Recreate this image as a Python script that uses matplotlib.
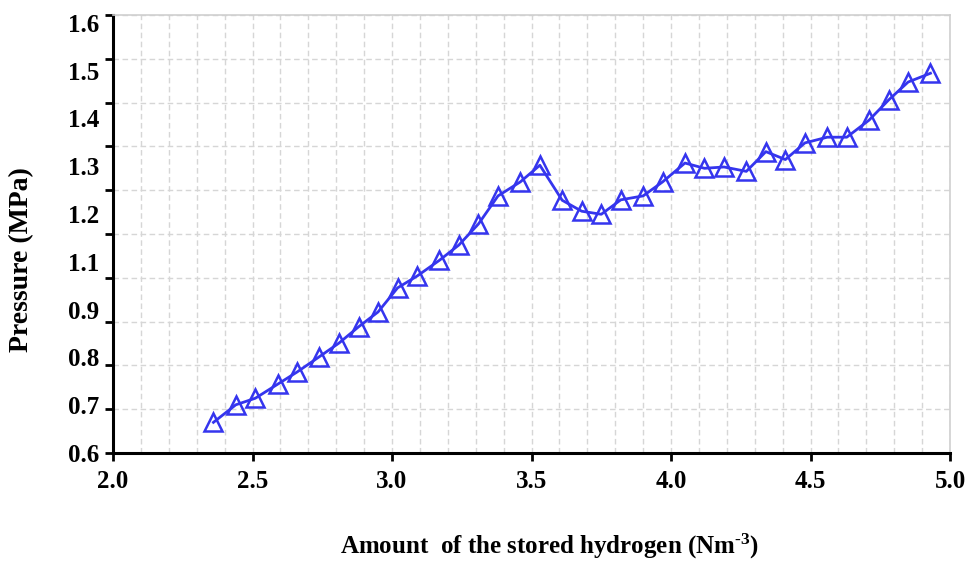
import matplotlib
matplotlib.use("Agg")
import matplotlib.pyplot as plt
import numpy as np
from matplotlib.ticker import MultipleLocator, FixedLocator, NullFormatter

# Data
stored_h2 = [2.36, 2.44, 2.51, 2.59, 2.66, 2.74, 2.81, 2.88, 2.95, 3.02,
             3.09, 3.17, 3.24, 3.31, 3.38, 3.46, 3.53, 3.61, 3.68, 3.75,
             3.82, 3.90, 3.97, 4.05, 4.12, 4.19, 4.27, 4.34, 4.41, 4.48,
             4.56, 4.63, 4.71, 4.78, 4.85, 4.93]
pressure = [0.670, 0.710, 0.725, 0.757, 0.785, 0.820, 0.851, 0.888, 0.922, 0.977,
            1.004, 1.040, 1.075, 1.123, 1.187, 1.219, 1.257, 1.177, 1.152, 1.145,
            1.178, 1.187, 1.219, 1.262, 1.250, 1.253, 1.243, 1.288, 1.270, 1.308,
            1.321, 1.321, 1.360, 1.406, 1.447, 1.467]

x_ticks = [2.0, 2.5, 3.0, 3.5, 4.0, 4.5, 5.0]
y_ticks = [0.6, 0.7, 0.8, 0.9, 1.0, 1.1, 1.2, 1.3, 1.4, 1.5, 1.6]
# the printed y labels (1.0 is absent in the original figure)
y_tick_labels = ["0.6", "0.7", "0.8", "0.9", "1.1", "1.2", "1.3", "1.4", "1.5", "1.6"]

plt.rcParams['font.family'] = ['Liberation Serif', 'DejaVu Serif']
plt.rcParams['font.weight'] = 'bold'
plt.rcParams['mathtext.fontset'] = 'custom'
plt.rcParams['mathtext.rm'] = 'Liberation Serif:bold'
plt.rcParams['mathtext.it'] = 'Liberation Serif:bold'
plt.rcParams['mathtext.bf'] = 'Liberation Serif:bold'

fig = plt.figure(figsize=(9.73, 5.63), dpi=100)
ax = fig.add_axes([113/973, 1-453/563, (950-113)/973, (453-15)/563])

blue = '#3535ee'
ax.plot(stored_h2, pressure, color=blue, linewidth=2.0, marker='^',
        markersize=13, markerfacecolor='none', markeredgecolor=blue,
        markeredgewidth=1.8, zorder=3)

ax.set_xlim(2.0, 5.0)
ax.set_ylim(0.6, 1.6)
ax.set_xticks(x_ticks)
ax.set_xticklabels([f"{v:.1f}" for v in x_ticks])
ax.xaxis.set_minor_locator(MultipleLocator(0.1))

# ticks/grid at every 0.1; the printed labels are spread evenly (slightly
# offset from the ticks, as in the original figure)
ax.yaxis.remove_overlapping_locs = False
ax.yaxis.set_major_locator(FixedLocator(y_ticks))
ax.yaxis.set_major_formatter(NullFormatter())
label_pos = np.linspace(0.6, 1.582, len(y_tick_labels))
ax.yaxis.set_minor_locator(FixedLocator(label_pos))
ax.set_yticklabels(y_tick_labels, minor=True)

grid_kw = dict(color='#d6d6d6', linewidth=1.0, linestyle=(0, (4, 2.5)))
ax.grid(True, which='major', axis='both', **grid_kw)
ax.grid(True, which='minor', axis='x', **grid_kw)
ax.set_axisbelow(True)

ax.tick_params(axis='both', which='major', direction='out', length=6, width=2,
               labelsize=18, pad=4)
ax.tick_params(axis='y', which='minor', length=0, labelsize=18, pad=10)
ax.tick_params(axis='x', which='minor', length=0)
ax.tick_params(axis='x', which='major', pad=6)

for s in ['left', 'bottom']:
    ax.spines[s].set_linewidth(2.2)
    ax.spines[s].set_color('black')
for s in ['top', 'right']:
    ax.spines[s].set_linewidth(1.2)
    ax.spines[s].set_color('#cfcfcf')

fig.text(22/973, 1-260/563, 'Pressure (MPa)', rotation=90, fontsize=20,
         fontweight='bold', ha='center', va='center')
fig.text(550/973, 1-546/563, r'Amount  of the stored hydrogen (Nm$^{\text{-3}}$)',
         fontsize=18, fontweight='bold', ha='center', va='center')

fig.savefig('out.png', dpi=100)
